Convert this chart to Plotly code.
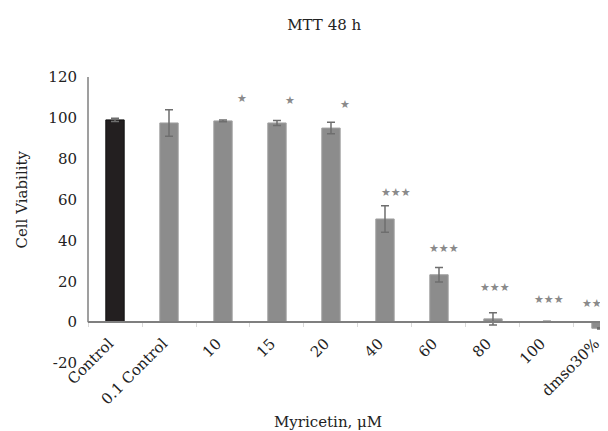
import plotly.graph_objects as go

categories = ["Control", "0.1 Control", "10", "15", "20", "40", "60", "80", "100", "dmso30%"]
viability = [99.0, 97.5, 98.5, 97.5, 95.0, 50.5, 23.2, 1.6, 0.2, -3.0]
errors = [0.8, 6.5, 0.4, 1.2, 2.8, 6.5, 3.6, 3.0, 0.2, 0.3]
star_labels = ["", "", "★", "★", "★", "★★★", "★★★", "★★★", "★★★", "★★★"]
star_y = [None, None, 109.5, 108.6, 106.6, 63.7, 36.1, 17.1, 11.1, 9.0]
y_ticks = [-20, 0, 20, 40, 60, 80, 100, 120]
y_tick_labels = ["-20", "0", "20", "40", "60", "80", "100", "120"]

# pixel offsets of the significance marks from their bar centres (style only)
star_dx = [0, 0, 19, 13, 14, 11, 5, 2, 2, -4]

bar_colors = ["#231f20"] + ["#8c8c8c"] * (len(categories) - 1)
line_colors = ["#111111"] + ["#a0a0a0"] * (len(categories) - 1)

FONT = "DejaVu Serif"
TXT = "#222222"

fig = go.Figure()
fig.add_trace(go.Bar(
    x=categories, y=viability, width=0.34,
    marker=dict(color=bar_colors, line=dict(color=line_colors, width=1)),
    error_y=dict(type="data", array=errors, visible=True, color="#6e6e6e",
                 thickness=1.5, width=4),
    showlegend=False,
))

annotations = []
for i, (s, yv) in enumerate(zip(star_labels, star_y)):
    if s:
        annotations.append(dict(x=i, y=yv, xref="x", yref="y", text=s,
                                showarrow=False, xshift=star_dx[i],
                                xanchor="center", yanchor="middle",
                                font=dict(family="DejaVu Sans", size=11, color="#8a8a8a")))

annotations.append(dict(text="Cell Viability", xref="paper", yref="y", x=-0.127, y=60,
                        textangle=-90, showarrow=False, xanchor="center", yanchor="middle",
                        font=dict(family=FONT, size=15, color=TXT)))
annotations.append(dict(text="Myricetin, μM", xref="paper", yref="paper", x=0.4615, y=-0.205,
                        showarrow=False, xanchor="center", yanchor="middle",
                        font=dict(family=FONT, size=15, color=TXT)))

# the page body adds an 8px margin, so the figure is 8px smaller and shifted
fig.update_layout(
    width=600, height=423,
    margin=dict(l=80, r=0, t=69, b=68, autoexpand=False),
    plot_bgcolor="white", paper_bgcolor="white",
    font=dict(family=FONT, size=15, color=TXT),
    title=dict(text="MTT 48 h", x=0.527, xanchor="center", y=0.96, yanchor="middle",
               font=dict(family=FONT, size=15, color=TXT)),
    annotations=annotations,
    xaxis=dict(
        type="category", range=[-0.5, 9.13], automargin=False,
        anchor="free", position=20 / 140,
        showline=True, linecolor="#7f7f7f", linewidth=1.5,
        ticks="outside", tickson="boundaries", ticklen=4, tickcolor="#d9d9d9",
        tickangle=-45, tickfont=dict(family=FONT, size=15, color=TXT),
        ticklabelstandoff=6, ticklabelshift=-6,
        showgrid=False, zeroline=False,
    ),
    yaxis=dict(
        range=[-20, 120], tickvals=y_ticks, ticktext=y_tick_labels, automargin=False,
        showline=False, showgrid=False, zeroline=False, ticks="",
        ticklabelstandoff=10,
        tickfont=dict(family=FONT, size=15, color=TXT),
    ),
    shapes=[dict(type="line", xref="paper", yref="y", x0=0, x1=0, y0=0, y1=120,
                 line=dict(color="#7f7f7f", width=1.5))],
)

fig.write_html("out.html")
